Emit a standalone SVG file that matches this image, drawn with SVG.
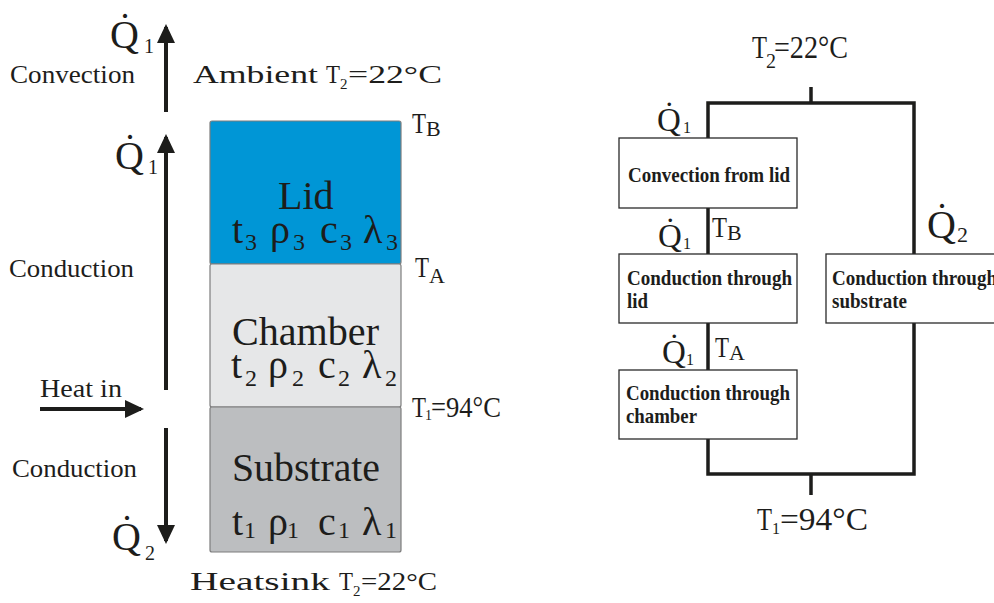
<svg xmlns="http://www.w3.org/2000/svg" width="994" height="603" viewBox="0 0 994 603">
<defs>
<style>
text{font-family:"Liberation Serif","Times New Roman",serif;fill:#1d1d1b}
.bx{font-weight:bold;font-size:22px}
.layer{stroke:#7d7d7d;stroke-width:1.2}
.box{fill:#fff;stroke:#2a2a2a;stroke-width:1.3}
.wire{fill:none;stroke:#1d1d1b;stroke-width:3.5}
.arr{fill:none;stroke:#1d1d1b;stroke-width:4}
</style>
<marker id="ah" markerUnits="userSpaceOnUse" markerWidth="20" markerHeight="20" refX="16" refY="9" orient="auto">
<path d="M0,0 L19,9 L0,18 z" fill="#1d1d1b"/>
</marker>
</defs>
<rect width="994" height="603" fill="#fff"/>

<!-- left stack -->
<g id="lid">
<rect class="layer" x="210" y="121" width="191" height="143" rx="2" fill="#0096d6"/>
<text x="278" y="209" font-size="40">Lid</text>
<text font-size="40" y="243"><tspan x="232">t</tspan><tspan x="270">ρ</tspan><tspan x="320">c</tspan><tspan x="363">λ</tspan></text>
<text font-size="24" y="250"><tspan x="245">3</tspan><tspan x="293">3</tspan><tspan x="340">3</tspan><tspan x="386">3</tspan></text>
</g>
<g id="chamber">
<rect class="layer" x="210" y="264" width="191" height="143" rx="2" fill="#e6e7e8"/>
<text x="232" y="345" font-size="40" textLength="147" lengthAdjust="spacingAndGlyphs">Chamber</text>
<text font-size="40" y="378"><tspan x="231">t</tspan><tspan x="268">ρ</tspan><tspan x="318">c</tspan><tspan x="362">λ</tspan></text>
<text font-size="24" y="386"><tspan x="245">2</tspan><tspan x="292">2</tspan><tspan x="338">2</tspan><tspan x="385">2</tspan></text>
</g>
<g id="substrate">
<rect class="layer" x="210" y="407" width="191" height="145" rx="2" fill="#bcbec0"/>
<text x="232" y="481" font-size="40" textLength="148" lengthAdjust="spacingAndGlyphs">Substrate</text>
<text font-size="40" y="535"><tspan x="232">t</tspan><tspan x="268">ρ</tspan><tspan x="318">c</tspan><tspan x="362">λ</tspan></text>
<text font-size="24" y="538"><tspan x="244">1</tspan><tspan x="287">1</tspan><tspan x="338">1</tspan><tspan x="385">1</tspan></text>
</g>

<g id="left-arrows">
<line class="arr" x1="166" y1="112" x2="166" y2="27" marker-end="url(#ah)"/>
<line class="arr" x1="166" y1="390" x2="166" y2="137" marker-end="url(#ah)"/>
<line class="arr" x1="40" y1="409" x2="141" y2="409" marker-end="url(#ah)"/>
<line class="arr" x1="166" y1="428" x2="166" y2="541" marker-end="url(#ah)"/>
</g>

<g id="left-labels">
<text x="110" y="48" font-size="40">Q&#x307;</text><text x="144" y="53" font-size="20">1</text>
<text x="115" y="169" font-size="40">Q&#x307;</text><text x="148" y="174" font-size="20">1</text>
<text x="112" y="550" font-size="40">Q&#x307;</text><text x="145" y="560" font-size="20">2</text>
<text x="10" y="83" font-size="25" textLength="125" lengthAdjust="spacingAndGlyphs">Convection</text>
<text x="9" y="277" font-size="25" textLength="125" lengthAdjust="spacingAndGlyphs">Conduction</text>
<text x="40" y="397" font-size="26" textLength="82" lengthAdjust="spacingAndGlyphs">Heat in</text>
<text x="12" y="477" font-size="25" textLength="125" lengthAdjust="spacingAndGlyphs">Conduction</text>
<text x="193" y="83" font-size="25" textLength="125" lengthAdjust="spacingAndGlyphs">Ambient</text>
<text x="326" y="83" font-size="25" textLength="14" lengthAdjust="spacingAndGlyphs">T</text><text x="340" y="89" font-size="15">2</text>
<text x="348" y="83" font-size="25" textLength="94" lengthAdjust="spacingAndGlyphs">=22°C</text>
<text x="190" y="590" font-size="25" textLength="140" lengthAdjust="spacingAndGlyphs">Heatsink</text>
<text x="339" y="590" font-size="25" textLength="14" lengthAdjust="spacingAndGlyphs">T</text><text x="353" y="596" font-size="15">2</text>
<text x="361" y="590" font-size="25" textLength="76" lengthAdjust="spacingAndGlyphs">=22°C</text>
<text x="412" y="133" font-size="30" textLength="14" lengthAdjust="spacingAndGlyphs">T</text><text x="426" y="136" font-size="22">B</text>
<text x="415" y="277" font-size="30" textLength="14" lengthAdjust="spacingAndGlyphs">T</text><text x="429" y="283" font-size="22">A</text>
<text x="412" y="417" font-size="30" textLength="14" lengthAdjust="spacingAndGlyphs">T</text><text x="425" y="420" font-size="14">1</text>
<text x="431" y="417" font-size="30" textLength="70" lengthAdjust="spacingAndGlyphs">=94°C</text>
</g>

<!-- right network -->
<g id="connectors">
<path class="wire" d="M708,138 V103 H914 V254"/>
<path class="wire" d="M811,87 V103"/>
<path class="wire" d="M708,208 V254"/>
<path class="wire" d="M708,323 V370"/>
<path class="wire" d="M708,439 V474 H914 V323"/>
<path class="wire" d="M811,474 V495"/>
</g>
<g id="convection-lid">
<rect class="box" x="619" y="138" width="178" height="70"/>
<text class="bx" x="628" y="182" textLength="162" lengthAdjust="spacingAndGlyphs">Convection from lid</text>
</g>
<g id="conduction-lid">
<rect class="box" x="619" y="254" width="178" height="69"/>
<text class="bx" x="627" y="285" textLength="165" lengthAdjust="spacingAndGlyphs">Conduction through</text>
<text class="bx" x="627" y="308" textLength="21" lengthAdjust="spacingAndGlyphs">lid</text>
</g>
<g id="conduction-chamber">
<rect class="box" x="619" y="370" width="178" height="69"/>
<text class="bx" x="626" y="400" textLength="164" lengthAdjust="spacingAndGlyphs">Conduction through</text>
<text class="bx" x="626" y="423" textLength="71" lengthAdjust="spacingAndGlyphs">chamber</text>
</g>
<g id="conduction-substrate">
<rect class="box" x="826" y="254" width="200" height="69"/>
<text class="bx" x="832" y="285" textLength="165" lengthAdjust="spacingAndGlyphs">Conduction through</text>
<text class="bx" x="832" y="308" textLength="75" lengthAdjust="spacingAndGlyphs">substrate</text>
</g>
<g id="right-labels">
<text x="752" y="58" font-size="32" textLength="15" lengthAdjust="spacingAndGlyphs">T</text><text x="766" y="68" font-size="20">2</text>
<text x="774" y="58" font-size="32" textLength="74" lengthAdjust="spacingAndGlyphs">=22°C</text>
<text x="757" y="530" font-size="32" textLength="15" lengthAdjust="spacingAndGlyphs">T</text><text x="772" y="534" font-size="16">1</text>
<text x="780" y="530" font-size="32" textLength="88" lengthAdjust="spacingAndGlyphs">=94°C</text>
<text x="657" y="131" font-size="33">Q&#x307;</text><text x="683" y="133" font-size="16">1</text>
<text x="658" y="247" font-size="33">Q&#x307;</text><text x="683" y="249" font-size="16">1</text>
<text x="662" y="363" font-size="33">Q&#x307;</text><text x="686" y="365" font-size="16">1</text>
<text x="927" y="238" font-size="40">Q&#x307;</text><text x="957" y="242" font-size="22">2</text>
<text x="712" y="237" font-size="30" textLength="15" lengthAdjust="spacingAndGlyphs">T</text><text x="727" y="240" font-size="22">B</text>
<text x="715" y="357" font-size="30" textLength="14" lengthAdjust="spacingAndGlyphs">T</text><text x="729" y="360" font-size="22">A</text>
</g>
</svg>
